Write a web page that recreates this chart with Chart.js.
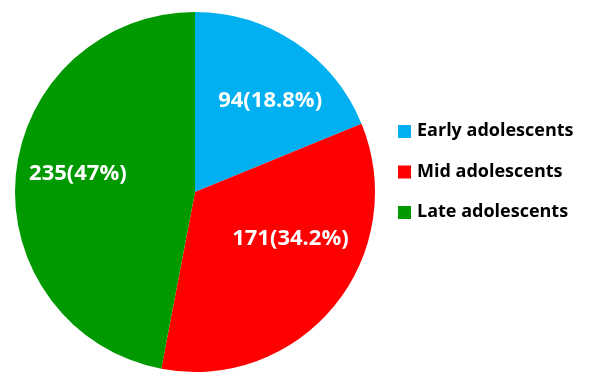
<!DOCTYPE html>
<html>
<head>
<meta charset="utf-8">
<script src="https://cdn.jsdelivr.net/npm/chart.js@4/dist/chart.umd.min.js"></script>
<style>
  body { margin: 0; background: #fff; }
  canvas { display: block; }
</style>
</head>
<body>
<canvas id="pieChart" width="600" height="388"></canvas>
<script>
const categories = ["Early adolescents", "Mid adolescents", "Late adolescents"];
const counts = [94, 171, 235];
const colors = ["#00B0F0", "#FF0000", "#009900"];

// small nudges so labels sit where the original put them
const labelNudge = [[13, 1], [9, -24], [-6, -8]];

const total = counts.reduce((a, b) => a + b, 0);

const sliceLabels = {
  id: "sliceLabels",
  afterDatasetsDraw(chart) {
    const ctx = chart.ctx;
    const meta = chart.getDatasetMeta(0);
    ctx.save();
    ctx.fillStyle = "#fff";
    ctx.font = "bold 22px 'Open Sans'";
    ctx.textAlign = "center";
    ctx.textBaseline = "middle";
    meta.data.forEach((arc, i) => {
      const mid = (arc.startAngle + arc.endAngle) / 2;
      const r = arc.outerRadius * 0.62;
      const x = arc.x + Math.cos(mid) * r + labelNudge[i][0];
      const y = arc.y + Math.sin(mid) * r + labelNudge[i][1];
      const pct = parseFloat((counts[i] / total * 100).toFixed(1));
      ctx.fillText(counts[i] + "(" + pct + "%)", x, y);
    });
    ctx.restore();
  }
};

const sideLegend = {
  id: "sideLegend",
  afterDraw(chart) {
    const ctx = chart.ctx;
    ctx.save();
    ctx.font = "bold 18px 'Open Sans'";
    ctx.textBaseline = "middle";
    ctx.textAlign = "left";
    chart.data.labels.forEach((label, i) => {
      const y = 131 + i * 40.5;
      ctx.fillStyle = colors[i];
      ctx.fillRect(398, y - 6, 13, 13);
      ctx.fillStyle = "#000";
      ctx.fillText(label, 417, y);
    });
    ctx.restore();
  }
};

new Chart(document.getElementById("pieChart"), {
  type: "pie",
  data: {
    labels: categories,
    datasets: [{
      data: counts,
      backgroundColor: colors,
      borderWidth: 0
    }]
  },
  options: {
    responsive: false,
    animation: false,
    layout: { padding: { left: 15, top: 12, right: 225, bottom: 16 } },
    plugins: {
      legend: { display: false },
      tooltip: { enabled: false }
    }
  },
  plugins: [sliceLabels, sideLegend]
});
</script>
</body>
</html>
